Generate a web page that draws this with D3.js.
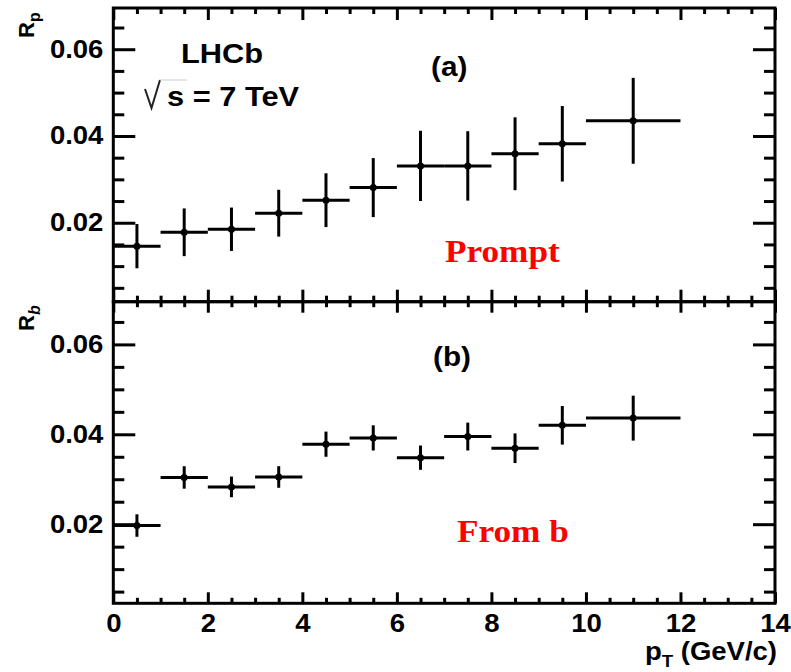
<!DOCTYPE html>
<html>
<head>
<meta charset="utf-8">
<script src="https://cdn.jsdelivr.net/npm/d3@7"></script>
<style>
  body { margin: 0; background: #fff; }
  svg { display: block; }
</style>
</head>
<body>
<script>
// bins in pT (GeV/c)
var binLo = [0, 1, 2, 3, 4, 5, 6, 7, 8, 9, 10],
    binHi = [1, 2, 3, 4, 5, 6, 7, 8, 9, 10, 12],
    binMid = [0.5, 1.5, 2.5, 3.5, 4.5, 5.5, 6.5, 7.5, 8.5, 9.5, 11];

// (a) prompt ratio and its error
var promptR   = [0.0146, 0.0178, 0.0185, 0.0222, 0.0252, 0.0281, 0.0331, 0.0331, 0.0359, 0.0382, 0.0435],
    promptErr = [0.0051, 0.0055, 0.0050, 0.0054, 0.0062, 0.0068, 0.0081, 0.0080, 0.0084, 0.0087, 0.0099];

// (b) from-b ratio and its error
var fromBR   = [0.0197, 0.0304, 0.0283, 0.0305, 0.0378, 0.0392, 0.0348, 0.0395, 0.0369, 0.0420, 0.0436],
    fromBErr = [0.0025, 0.0025, 0.0023, 0.0024, 0.0028, 0.0028, 0.0027, 0.0031, 0.0033, 0.0043, 0.0050];

// tick values
var xMajor = [0, 2, 4, 6, 8, 10, 12, 14],
    xMinor = [0.5, 1, 1.5, 2.5, 3, 3.5, 4.5, 5, 5.5, 6.5, 7, 7.5, 8.5, 9, 9.5, 10.5, 11, 11.5, 12.5, 13, 13.5],
    yMajor = [0.02, 0.04, 0.06],
    yMinor = [0.005, 0.01, 0.015, 0.025, 0.03, 0.035, 0.045, 0.05, 0.055, 0.065];

var W = 791, H = 672;
var helv = "'Liberation Sans', Arial, Helvetica, sans-serif",
    times = "'Liberation Serif', 'Times New Roman', serif",
    sx = 1.1; // reference text is a bit wide

var svg = d3.select("body").append("svg")
    .attr("width", W)
    .attr("height", H);

var x = d3.scaleLinear().domain([0, 14]).range([113.3, 775]);

var yTop = d3.scaleLinear().domain([0.0018, 0.0695]).range([301.7, 8]),
    yBot = d3.scaleLinear().domain([0.0024, 0.0695]).range([603.3, 301.7]);

function ticks(g, axis, values, size, tx, ty) {
  g.append("g")
      .attr("transform", "translate(" + tx + "," + ty + ")")
      .call(axis.tickValues(values).tickSize(size).tickSizeOuter(0).tickFormat(""))
      .call(function(a) {
        a.select(".domain").remove();
        a.selectAll("line").attr("stroke", "#000").attr("stroke-width", 3);
      });
}

function drawPanel(y, vals, errs, xLen) {
  var g = svg.append("g");
  var top = y.range()[1], bottom = y.range()[0],
      left = x.range()[0], right = x.range()[1];

  // inward ticks on all four sides
  ticks(g, d3.axisTop(x), xMajor, xLen, 0, bottom);
  ticks(g, d3.axisTop(x), xMinor, xLen / 2, 0, bottom);
  ticks(g, d3.axisBottom(x), xMajor, xLen, 0, top);
  ticks(g, d3.axisBottom(x), xMinor, xLen / 2, 0, top);
  ticks(g, d3.axisRight(y), yMajor, 22, left, 0);
  ticks(g, d3.axisRight(y), yMinor, 11, left, 0);
  ticks(g, d3.axisLeft(y), yMajor, 22, right, 0);
  ticks(g, d3.axisLeft(y), yMinor, 11, right, 0);

  // y labels
  g.append("g")
      .attr("transform", "translate(" + left + ",0)")
      .call(d3.axisLeft(y).tickValues(yMajor).tickSize(0).tickPadding(9).tickFormat(d3.format(".2f")))
      .call(function(a) {
        a.select(".domain").remove();
        a.selectAll("text")
            .attr("font-family", helv)
            .attr("font-weight", "bold")
            .attr("font-size", 25)
            .attr("transform", "scale(" + sx + ",1)");
      });

  // frame
  g.append("rect")
      .attr("x", left)
      .attr("y", top)
      .attr("width", right - left)
      .attr("height", bottom - top)
      .attr("fill", "none")
      .attr("stroke", "#000")
      .attr("stroke-width", 3);

  // points with error bars
  var pts = g.append("g").attr("stroke", "#000").attr("stroke-width", 3);
  vals.forEach(function(v, i) {
    pts.append("line")
        .attr("x1", x(binLo[i])).attr("x2", x(binHi[i]))
        .attr("y1", y(v)).attr("y2", y(v));
    pts.append("line")
        .attr("x1", x(binMid[i])).attr("x2", x(binMid[i]))
        .attr("y1", y(v - errs[i])).attr("y2", y(v + errs[i]));
    pts.append("circle")
        .attr("cx", x(binMid[i])).attr("cy", y(v))
        .attr("r", 3.5)
        .attr("stroke", "none")
        .attr("fill", "#000");
  });
  return g;
}

drawPanel(yTop, promptR, promptErr, 12);
var gb = drawPanel(yBot, fromBR, fromBErr, 11);

// x labels on the lower panel
gb.append("g")
    .attr("transform", "translate(0," + yBot.range()[0] + ")")
    .call(d3.axisBottom(x).tickValues(xMajor).tickSize(0).tickPadding(11).tickFormat(d3.format("d")))
    .call(function(a) {
      a.select(".domain").remove();
      a.selectAll("text")
          .attr("font-family", helv)
          .attr("font-weight", "bold")
          .attr("font-size", 25)
          .attr("transform", "scale(" + sx + ",1)");
    });

// text helper
function label(px, py, size, family, color, anchor) {
  return svg.append("text")
      .attr("transform", "translate(" + px + "," + py + ") scale(" + sx + ",1)")
      .attr("font-family", family)
      .attr("font-weight", "bold")
      .attr("font-size", size)
      .attr("fill", color)
      .attr("text-anchor", anchor || "start");
}

// axis titles
var xt = label(777, 660, 25, helv, "#000", "end");
xt.append("tspan").text("p");
xt.append("tspan").attr("font-size", 17).attr("dy", 7).text("T");
xt.append("tspan").attr("dy", -7).text(" (GeV/c)");

function yTitle(py, sub, italic) {
  var t = svg.append("text")
      .attr("transform", "translate(34," + py + ") rotate(-90)")
      .attr("font-family", helv)
      .attr("font-weight", "bold")
      .attr("font-size", 22);
  t.append("tspan").text("R");
  t.append("tspan").attr("font-size", 16).attr("dy", 6)
      .attr("font-style", italic ? "italic" : "normal").text(sub);
}
yTitle(38, "p", false);
yTitle(331, "b", true);

// annotations
label(181, 63, 28, helv, "#000").text("LHCb");

// square-root sign drawn next to the "s"
var rx = 145, ry = 108;
svg.append("path")
    .attr("d", "M" + rx + "," + (ry - 19) + " L" + (rx + 6.5) + "," + ry + " L" + (rx + 15) + "," + (ry - 28))
    .attr("fill", "none")
    .attr("stroke", "#222")
    .attr("stroke-width", 2);
svg.append("line")
    .attr("x1", rx + 15).attr("x2", rx + 42)
    .attr("y1", ry - 28).attr("y2", ry - 28)
    .attr("stroke", "#ccc").attr("stroke-width", 1);
label(167, 106, 28, helv, "#000").text("s = 7 TeV");

label(431, 76, 27, helv, "#000").text("(a)");
label(433, 366, 27, helv, "#000").text("(b)");

label(445, 262, 32, times, "#ff0000").text("Prompt");
label(457, 542, 32, times, "#ff0000").text("From b");
</script>
</body>
</html>
